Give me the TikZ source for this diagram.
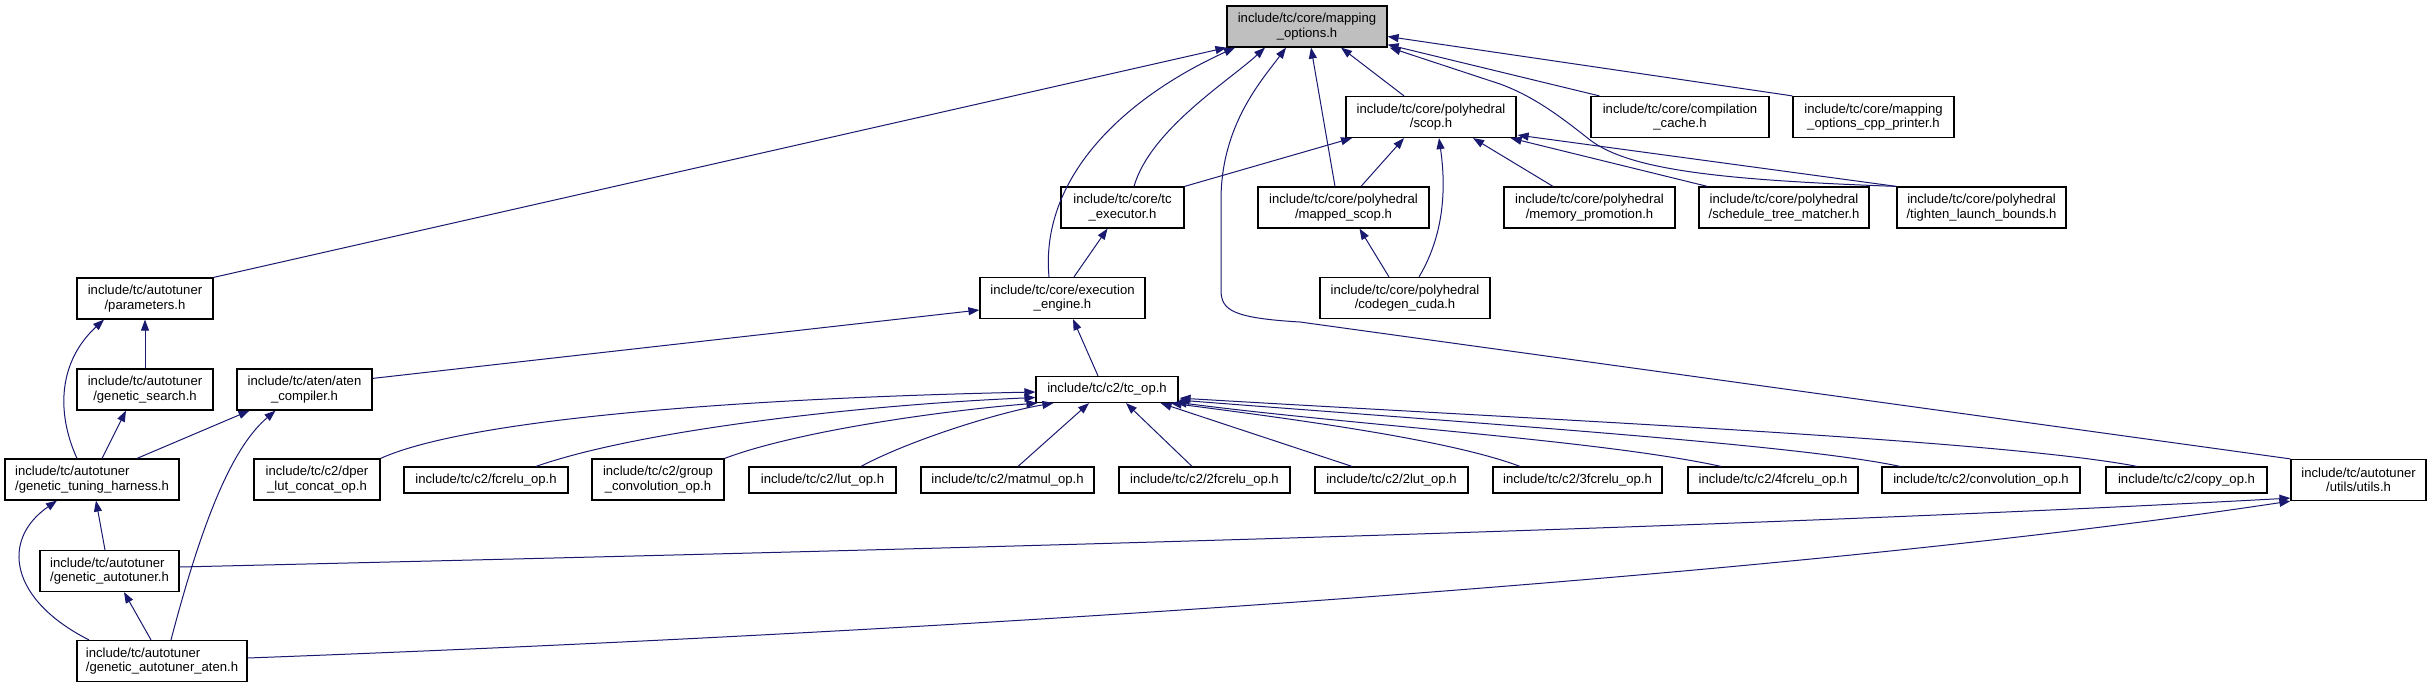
\documentclass[tikz,border=0pt]{standalone}
\usepackage{fontspec}
\setmainfont{Liberation Sans}
\usetikzlibrary{arrows.meta,calc}
\definecolor{edgeblue}{RGB}{25,25,112}
\definecolor{nodegray}{RGB}{191,191,191}
\begin{document}
\begin{tikzpicture}[x=1pt,y=-1pt,
  box/.style={draw=black, line width=1.2pt, fill=white, inner sep=0pt, align=center,
    font=\fontsize{13.1}{14.6}\selectfont, minimum height=41pt},
  onel/.style={minimum height=26pt},
  edge/.style={draw=edgeblue, line width=1pt, -{Triangle[length=11pt,width=8pt]}}]
\useasboundingbox[fill=white] (0,0) rectangle (2432,688);
% row 1
\node[box, fill=nodegray, minimum width=160pt] (mo) at (1307,26.5) {include/tc/core/mapping\\\_options.h};
% row 2
\node[box, minimum width=170pt] (scop) at (1431,117) {include/tc/core/polyhedral\\/scop.h};
\node[box, minimum width=178pt] (cc) at (1680,117) {include/tc/core/compilation\\\_cache.h};
\node[box, minimum width=161pt] (cpp) at (1873.5,117) {include/tc/core/mapping\\\_options\_cpp\_printer.h};
% row 3
\node[box, minimum width=123pt] (tcex) at (1122.5,207.5) {include/tc/core/tc\\\_executor.h};
\node[box, minimum width=171pt] (msc) at (1343.5,207.5) {include/tc/core/polyhedral\\/mapped\_scop.h};
\node[box, minimum width=171pt] (mp) at (1589.5,207.5) {include/tc/core/polyhedral\\/memory\_promotion.h};
\node[box, minimum width=170pt] (stm) at (1784,207.5) {include/tc/core/polyhedral\\/schedule\_tree\_matcher.h};
\node[box, minimum width=169pt] (tlb) at (1981.5,207.5) {include/tc/core/polyhedral\\/tighten\_launch\_bounds.h};
% row 4
\node[box, minimum width=136pt] (par) at (145,298.5) {include/tc/autotuner\\/parameters.h};
\node[box, minimum width=165pt] (ee) at (1062.5,298) {include/tc/core/execution\\\_engine.h};
\node[box, minimum width=170pt] (cg) at (1405,298) {include/tc/core/polyhedral\\/codegen\_cuda.h};
% row 5
\node[box, minimum width=136pt] (gs) at (145,389.5) {include/tc/autotuner\\/genetic\_search.h};
\node[box, minimum width=135pt] (aten) at (304.5,389.5) {include/tc/aten/aten\\\_compiler.h};
\node[box, onel, minimum width=142pt] (tcop) at (1107,389.5) {include/tc/c2/tc\_op.h};
% row 6
\node[box, minimum width=174pt, align=left] (gth) at (92,479.5) {include/tc/autotuner\\/genetic\_tuning\_harness.h};
\node[box, minimum width=126pt] (dper) at (317,479.5) {include/tc/c2/dper\\\_lut\_concat\_op.h};
\node[box, onel, minimum width=164pt] (fcr) at (486,480) {include/tc/c2/fcrelu\_op.h};
\node[box, minimum width=132pt] (gcv) at (658,479.5) {include/tc/c2/group\\\_convolution\_op.h};
\node[box, onel, minimum width=147pt] (lut) at (822.5,480) {include/tc/c2/lut\_op.h};
\node[box, onel, minimum width=173pt] (mm) at (1007.5,480) {include/tc/c2/matmul\_op.h};
\node[box, onel, minimum width=171pt] (ftwo) at (1204.5,480) {include/tc/c2/2fcrelu\_op.h};
\node[box, onel, minimum width=153pt] (ltwo) at (1391.5,480) {include/tc/c2/2lut\_op.h};
\node[box, onel, minimum width=169pt] (fthree) at (1577.5,480) {include/tc/c2/3fcrelu\_op.h};
\node[box, onel, minimum width=170pt] (ffour) at (1773,480) {include/tc/c2/4fcrelu\_op.h};
\node[box, onel, minimum width=198pt] (conv) at (1981,480) {include/tc/c2/convolution\_op.h};
\node[box, onel, minimum width=161pt] (copy) at (2186.5,480) {include/tc/c2/copy\_op.h};
\node[box, minimum width=135pt] (utils) at (2358.5,480) {include/tc/autotuner\\/utils/utils.h};
% rows 7-8
\node[box, minimum width=139pt, align=left] (ga) at (109.5,571) {include/tc/autotuner\\/genetic\_autotuner.h};
\node[box, minimum width=170pt, align=left] (gaa) at (162,661) {include/tc/autotuner\\/genetic\_autotuner\_aten.h};

% edges into mapping_options
\draw[edge] (par.north east) -- (mo.south west);
\draw[edge] ($(tcex.north)+(11.5,0)$) .. controls (1150,130) and (1230,80) .. ($(mo.south)+(-42,0)$);
\draw[edge] ($(ee.north)+(-13.5,0)$) .. controls (1040,180) and (1120,100) .. ($(mo.south)+(-72,0)$);
\draw[edge] (utils.north west) -- (1300,322) .. controls (1232,318) and (1221,310) .. (1221,290) -- (1221,200) .. controls (1221,125) and (1262,80) .. ($(mo.south)+(-21,0)$);
\draw[edge] ($(msc.north)+(-8.5,0)$) -- ($(mo.south)+(4,0)$);
\draw[edge] ($(scop.north)+(-27,0)$) -- ($(mo.south)+(34,0)$);
\draw[edge] ($(cc.north west)+(9,0)$) -- ($(mo.south east)+(0,-3)$);
\draw[edge] (cpp.north west) -- ($(mo.east)+(0,10)$);
\draw[edge] (tlb.north west) .. controls (1720,180) and (1630,170) .. (1590,140) .. controls (1555,112) and (1530,95) .. (1500,84) -- ($(mo.south east)+(2,0)$);
% edges into scop
\draw[edge] (tcex.north east) -- ($(scop.south)+(-79,0)$);
\draw[edge] ($(msc.north)+(17.5,0)$) -- ($(scop.south)+(-27,0)$);
\draw[edge] ($(cg.north)+(14,0)$) .. controls (1447,230) and (1445,180) .. ($(scop.south)+(8,0)$);
\draw[edge] ($(mp.north)+(-36.5,0)$) -- ($(scop.south)+(42,0)$);
\draw[edge] ($(stm.north west)+(9,0)$) -- ($(scop.south east)+(-6,0)$);
\draw[edge] (tlb.north west) -- ($(scop.south east)+(1,-3)$);
% row 3/4
\draw[edge] ($(ee.north)+(11.5,0)$) -- ($(tcex.south)+(-15,0)$);
\draw[edge] ($(cg.north)+(-16,0)$) -- ($(msc.south)+(16,0)$);
\draw[edge] ($(aten.north east)+(0,10)$) -- ($(ee.west)+(0,12)$);
\draw[edge] ($(tcop.north)+(-9,0)$) -- ($(ee.south)+(10.5,0)$);
% autotuner
\draw[edge] (gs.north) -- (par.south);
\draw[edge] ($(gth.north)+(-15,0)$) .. controls (55,410) and (60,360) .. ($(par.south)+(-41,0)$);
\draw[edge] ($(gth.north)+(10,0)$) -- ($(gs.south)+(-19,0)$);
\draw[edge] ($(gth.north)+(45,0)$) -- ($(aten.south)+(-55,0)$);
\draw[edge] ($(gaa.north)+(9,0)$) .. controls (205,510) and (235,445) .. ($(aten.south)+(-29,0)$);
\draw[edge] ($(ga.north)+(-4.5,0)$) -- ($(gth.south)+(4,0)$);
\draw[edge] ($(gaa.north)+(-73,0)$) .. controls (10,600) and (0,540) .. ($(gth.south)+(-35,0)$);
\draw[edge] ($(gaa.north)+(-11,0)$) -- ($(ga.south)+(14.5,0)$);
\draw[edge] ($(ga.east)+(0,-4)$) .. controls (900,550) and (1700,530) .. ($(utils.south west)+(0,-3)$);
\draw[edge] ($(gaa.east)+(0,-3)$) .. controls (1000,630) and (1800,575) .. (utils.south west);
% tc_op
\draw[edge] (dper.north east) .. controls (470,418) and (750,398) .. ($(tcop.west)+(0,2.5)$);
\draw[edge] ($(fcr.north)+(50,0)$) .. controls (640,430) and (860,405) .. ($(tcop.west)+(0,8)$);
\draw[edge] (gcv.north east) .. controls (800,430) and (950,410) .. ($(tcop.south west)+(2,0)$);
\draw[edge] ($(lut.north)+(38.5,0)$) .. controls (910,440) and (1000,412) .. ($(tcop.south west)+(18,0)$);
\draw[edge] ($(mm.north)+(10.5,0)$) -- ($(tcop.south)+(-18,0)$);
\draw[edge] ($(ftwo.north)+(-12.5,0)$) -- ($(tcop.south)+(19,0)$);
\draw[edge] ($(ltwo.north)+(-39.5,0)$) -- ($(tcop.south east)+(-18,0)$);
\draw[edge] ($(fthree.north)+(-57.5,0)$) .. controls (1450,440) and (1300,420) .. ($(tcop.south east)+(-8,0)$);
\draw[edge] ($(ffour.north)+(-52,0)$) .. controls (1600,440) and (1350,425) .. ($(tcop.south east)+(-3,-1)$);
\draw[edge] ($(conv.north)+(-81,0)$) .. controls (1800,445) and (1500,425) .. ($(tcop.south east)+(0,-3)$);
\draw[edge] ($(copy.north)+(-49.5,0)$) .. controls (2000,440) and (1550,420) .. ($(tcop.south east)+(1,-5)$);
\end{tikzpicture}
\end{document}
